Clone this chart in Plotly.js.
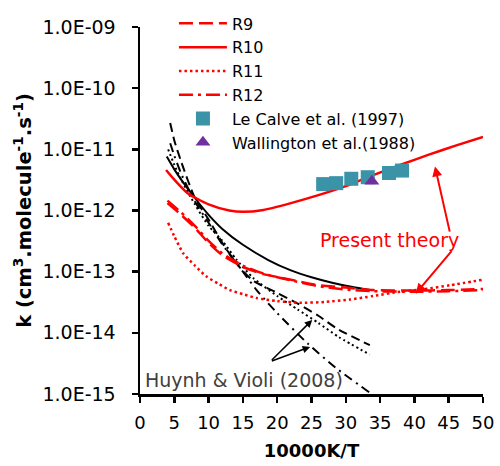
<!DOCTYPE html>
<html>
<head>
<meta charset="utf-8">
<script src="https://cdn.plot.ly/plotly-3.0.1.min.js"></script>
<style>
  html, body { margin: 0; padding: 0; background: #ffffff; }
  #chart { width: 500px; height: 466px; }
</style>
</head>
<body>
<div id="chart"></div>
<script>
// Rate constants k (cm3 molecule-1 s-1) against 10000K/T

// Present theory, reaction channels R9-R12
const r9X  = [4, 6, 8, 10, 12, 15, 18, 22, 26, 30, 34, 40, 45, 50];
const r9K  = [1.32e-12, 8.5e-13, 5.2e-13, 2.95e-13, 1.86e-13, 1.2e-13, 9.1e-14, 7.4e-14, 6.0e-14, 5.5e-14, 5.0e-14, 4.9e-14, 5.0e-14, 5.2e-14];

const r10X = [3.8, 5, 7, 10, 13, 15, 18, 22, 26, 30, 34, 38, 42, 46, 50];
const r10K = [4.6e-12, 3.2e-12, 1.9e-12, 1.26e-12, 1.0e-12, 9.5e-13, 1.02e-12, 1.32e-12, 1.78e-12, 2.5e-12, 3.8e-12, 5.6e-12, 8.1e-12, 1.15e-11, 1.6e-11];

const r11X = [4.1, 5, 6.3, 8, 9.7, 11.5, 13.1, 15, 17, 20, 23.3, 27, 30.6, 34, 37.9, 41.5, 45.2, 50];
const r11K = [6.3e-13, 3.8e-13, 2.0e-13, 1.26e-13, 8.3e-14, 6.3e-14, 5.0e-14, 4.3e-14, 3.7e-14, 3.3e-14, 3.1e-14, 3.2e-14, 3.5e-14, 4.0e-14, 4.7e-14, 5.2e-14, 6.0e-14, 7.4e-14];

const r12X = [4, 6, 8, 10, 12, 15, 18, 22, 26, 30, 34, 40, 45, 50];
const r12K = [1.45e-12, 9.3e-13, 5.6e-13, 3.2e-13, 2.0e-13, 1.26e-13, 9.3e-14, 7.2e-14, 5.8e-14, 5.1e-14, 4.8e-14, 4.7e-14, 4.8e-14, 5.0e-14];

// Huynh & Violi (2008)
const hvR9X  = [4.4, 5, 6, 8, 10, 12.4, 14.7, 16.5, 20, 23, 26, 29, 33.5];
const hvR9K  = [2.7e-11, 1.4e-11, 6.3e-12, 1.6e-12, 7.1e-13, 2.5e-13, 1.12e-13, 7.1e-14, 4.5e-14, 3.0e-14, 1.9e-14, 1.12e-14, 6.3e-15];

const hvR10X = [3.9, 5, 6, 8, 10, 12, 15, 18.7, 22, 25, 28, 31, 33.5];
const hvR10K = [7.6e-12, 4.7e-12, 3.2e-12, 1.6e-12, 8.5e-13, 5.0e-13, 2.75e-13, 1.55e-13, 1.05e-13, 8.1e-14, 6.6e-14, 5.6e-14, 5.0e-14];

const hvR11X = [4.1, 5, 6, 8, 10, 12, 14, 16.5, 20, 23, 26, 29, 33.5];
const hvR11K = [1.0e-11, 5.6e-12, 3.2e-12, 1.26e-12, 5.6e-13, 3.2e-13, 1.6e-13, 7.9e-14, 4.0e-14, 2.4e-14, 1.45e-14, 8.5e-15, 4.4e-15];

const hvR12X = [4.4, 5, 6, 8, 10, 12, 15, 17, 20, 24.5, 28.5, 33.5];
const hvR12K = [1.26e-11, 7.9e-12, 4.0e-12, 1.4e-12, 6.3e-13, 2.8e-13, 1.0e-13, 5.0e-14, 2.1e-14, 6.6e-15, 2.7e-15, 1.05e-15];

// Experimental points
const leCalveX = [26.7, 28.6, 30.8, 33.2, 36.3, 38.2];
const leCalveK = [2.7e-12, 2.8e-12, 3.3e-12, 3.5e-12, 4.1e-12, 4.5e-12];
const wallingtonX = [33.8];
const wallingtonK = [3.0e-12];

// Axis ticks
const yTickVals = [1e-15, 1e-14, 1e-13, 1e-12, 1e-11, 1e-10, 1e-9];
const yTickText = ['1.0E-15', '1.0E-14', '1.0E-13', '1.0E-12', '1.0E-11', '1.0E-10', '1.0E-09'];
const xTickVals = [0, 5, 10, 15, 20, 25, 30, 35, 40, 45, 50];

const FONT = '"DejaVu Sans", Verdana, sans-serif';
const RED = '#ff0000';

function line(x, y, name, color, width, dash, legend) {
  return {
    x: x, y: y, name: name, type: 'scatter', mode: 'lines',
    line: { color: color, width: width, dash: dash, shape: 'spline', smoothing: 0.6 },
    showlegend: legend, hoverinfo: 'skip'
  };
}

const traces = [
  line(hvR10X, hvR10K, 'H&V R10', '#000000', 2, 'solid', false),
  line(hvR9X,  hvR9K,  'H&V R9',  '#000000', 2, '9px,5px', false),
  line(hvR11X, hvR11K, 'H&V R11', '#000000', 2, '2px,3px', false),
  line(hvR12X, hvR12K, 'H&V R12', '#000000', 2, '9px,5px,2px,5px', false),
  line(r9X,  r9K,  'R9',  RED, 2.5, '14px,6px', true),
  line(r10X, r10K, 'R10', RED, 2.5, 'solid', true),
  line(r11X, r11K, 'R11', RED, 2.5, '2.5px,3px', true),
  line(r12X, r12K, 'R12', RED, 2.5, '14px,5px,3px,5px', true),
  {
    x: leCalveX, y: leCalveK, name: 'Le Calve et al. (1997)', type: 'scatter', mode: 'markers',
    marker: { symbol: 'square', size: 14, color: '#3a93a7' }, hoverinfo: 'skip'
  },
  {
    x: wallingtonX, y: wallingtonK, name: 'Wallington et al.(1988)', type: 'scatter', mode: 'markers',
    marker: { symbol: 'triangle-up', size: 13, color: '#7030a0' }, hoverinfo: 'skip'
  }
];

function arrow(x, y, ax, ay, color, width) {
  return {
    x: x, y: y, ax: ax, ay: ay, xref: 'x', yref: 'y', axref: 'x', ayref: 'y',
    text: '', showarrow: true, arrowhead: 2, arrowsize: 1, arrowwidth: width, arrowcolor: color,
    standoff: 0, startstandoff: 0
  };
}

const layout = {
  width: 500, height: 466,
  margin: { l: 140, r: 17, t: 27, b: 72, autoexpand: false },
  paper_bgcolor: '#ffffff', plot_bgcolor: '#ffffff',
  font: { family: FONT, color: '#000000' },
  showlegend: true,
  legend: {
    x: 0.099, y: 1.056, xanchor: 'left', yanchor: 'top',
    bgcolor: 'rgba(0,0,0,0)', font: { family: FONT, size: 16, color: '#000000' },
    itemwidth: 48, traceorder: 'normal', tracegroupgap: 0
  },
  xaxis: {
    range: [0, 50], tickvals: xTickVals, showgrid: false, zeroline: false,
    showline: true, linecolor: '#000000', linewidth: 2.5,
    ticks: 'outside', ticklen: 6, tickwidth: 2.5, tickcolor: '#000000',
    ticklabelstandoff: 5,
    tickfont: { family: FONT, size: 18, color: '#000000' },
    title: { text: '10000K/T', font: { family: FONT, size: 18, weight: 'bold', color: '#000000' }, standoff: 13 }
  },
  yaxis: {
    type: 'log', range: [-15, -9], tickvals: yTickVals, ticktext: yTickText,
    showgrid: false, zeroline: false,
    showline: true, linecolor: '#000000', linewidth: 2.5,
    ticks: 'outside', ticklen: 6, tickwidth: 2.5, tickcolor: '#000000',
    ticklabelstandoff: 12,
    tickfont: { family: FONT, size: 19, color: '#000000' },
    title: { text: 'k (cm<sup>3</sup>.molecule<sup>-1</sup>.s<sup>-1</sup>)', font: { family: FONT, size: 19.5, weight: 'bold', color: '#000000' }, standoff: 6 }
  },
  annotations: [
    {
      x: 36.4, y: -12.48, xref: 'x', yref: 'y', text: 'Present theory', showarrow: false,
      font: { family: FONT, size: 19, color: RED }, xanchor: 'center', yanchor: 'middle'
    },
    arrow(43.0, -11.28, 45.2, -12.37, RED, 2),
    arrow(40.2, -13.36, 45.6, -12.64, RED, 2),
    {
      x: 0.4, y: -14.77, xref: 'x', yref: 'y', text: 'Huynh &amp; Violi (2008)', showarrow: false,
      font: { family: FONT, size: 19, color: '#404040' }, xanchor: 'left', yanchor: 'middle'
    },
    arrow(25.1, -13.79, 19.0, -14.47, '#000000', 1.5),
    arrow(24.8, -14.23, 19.0, -14.47, '#000000', 1.5)
  ]
};

Plotly.newPlot('chart', traces, layout, { displayModeBar: false, staticPlot: true });
</script>
</body>
</html>
